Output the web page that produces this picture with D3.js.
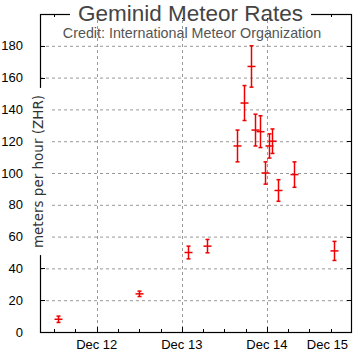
<!DOCTYPE html>
<html><head><meta charset="utf-8">
<script src="https://cdn.jsdelivr.net/npm/d3@7"></script>
<style>
html,body{margin:0;padding:0;background:#fff;}
svg{display:block;font-family:"Liberation Sans",Arial,sans-serif;}
</style></head>
<body>
<svg id="chart" width="360" height="354"></svg>
<script>
const times = ["2017-12-11T13:10Z","2017-12-12T11:52Z","2017-12-13T01:42Z","2017-12-13T07:14Z",
  "2017-12-13T15:42Z","2017-12-13T17:24Z","2017-12-13T19:30Z","2017-12-13T20:30Z","2017-12-13T21:55Z",
  "2017-12-13T23:20Z","2017-12-14T00:28Z","2017-12-14T01:18Z","2017-12-14T03:00Z","2017-12-14T07:31Z",
  "2017-12-14T18:49Z"];
const rates = [8, 24, 50, 54, 117, 144, 167, 127, 126, 100, 117, 120, 89, 99, 51];
const errors = [2, 1.7, 4, 4.2, 10, 11, 13, 10, 10, 7, 7.6, 7.7, 6.8, 8, 6];
const yTicks = [0, 20, 40, 60, 80, 100, 120, 140, 160, 180];
const xTicks = ["2017-12-12T00:00Z","2017-12-13T00:00Z","2017-12-14T00:00Z","2017-12-15T00:00Z"];
const xTickLabels = ["Dec 12","Dec 13","Dec 14","Dec 15"];
const titleText = "Geminid Meteor Rates";
const subtitleText = "Credit: International Meteor Organization";
const yLabel = "meters per hour (ZHR)";

const L = 40, R = 352, T = 14, B = 332;
const svg = d3.select("#chart");
const x = d3.scaleUtc().domain([new Date("2017-12-11T08:00Z"), new Date("2017-12-15T00:00Z")]).range([L, R]);
const y = d3.scaleLinear().domain([0, 200]).range([B, T]);
const xt = xTicks.map(d => new Date(d));
const minor = d3.utcHour.every(6).range(x.domain()[0], x.domain()[1]);

// grid
const g = svg.append("g");
g.selectAll(".hg").data(yTicks.filter(v => v > 0)).join("line")
  .attr("x1", L).attr("x2", R).attr("y1", d => y(d) + 0.5).attr("y2", d => y(d) + 0.5)
  .attr("stroke", "#999").attr("stroke-dasharray", "3,3").attr("stroke-width", 1);
g.selectAll(".vg").data(xt.filter(d => x(d) < R - 1)).join("line")
  .attr("x1", d => Math.round(x(d)) + 0.5).attr("x2", d => Math.round(x(d)) + 0.5).attr("y1", T).attr("y2", B)
  .attr("stroke", "#999").attr("stroke-dasharray", "3,3").attr("stroke-width", 1);

// ticks
const tk = svg.append("g").attr("stroke", "#000").attr("stroke-width", 1);
yTicks.forEach(v => {
  const yy = Math.round(y(v)) + 0.5;
  tk.append("line").attr("x1", L).attr("x2", L + 5).attr("y1", yy).attr("y2", yy);
  tk.append("line").attr("x1", R - 5).attr("x2", R).attr("y1", yy).attr("y2", yy);
});
minor.forEach(d => {
  const xx = Math.round(x(d)) + 0.5;
  const major = d.getUTCHours() === 0;
  const len = major ? 5 : 3;
  tk.append("line").attr("x1", xx).attr("x2", xx).attr("y1", B).attr("y2", B - len);
  tk.append("line").attr("x1", xx).attr("x2", xx).attr("y1", T).attr("y2", T + len);
});

// frame
svg.append("rect").attr("x", L + 0.5).attr("y", T + 0.5).attr("width", R - L - 1).attr("height", B - T)
  .attr("fill", "none").attr("stroke", "#000").attr("stroke-width", 1.2);

// y tick labels
svg.append("g").selectAll("text").data(yTicks).join("text")
  .attr("x", 23).attr("y", d => y(d)).attr("dy", "0.35em").attr("text-anchor", "end")
  .attr("font-size", 13).attr("fill", "#000").text(d => d);

// x tick labels
const xl = svg.append("g").selectAll("text").data(xt).join("text")
  .attr("x", d => x(d)).attr("y", 349).attr("text-anchor", "middle")
  .attr("font-size", 13).attr("fill", "#000").text((d, i) => xTickLabels[i]);
xl.each(function() {
  const w = this.getComputedTextLength();
  const cx = +this.getAttribute("x");
  if (cx + w / 2 > 348) this.setAttribute("x", 348 - w / 2);
});

// data
const pts = svg.append("g").attr("stroke", "#ee0000").attr("stroke-width", 1.5);
times.forEach((t, i) => {
  const cx = Math.round(x(new Date(t))) + 0.5;
  const cy = y(rates[i]);
  const y1 = y(rates[i] + errors[i]), y2 = y(rates[i] - errors[i]);
  pts.append("line").attr("x1", cx).attr("x2", cx).attr("y1", y1).attr("y2", y2);
  pts.append("line").attr("x1", cx - 2).attr("x2", cx + 2).attr("y1", y1).attr("y2", y1);
  pts.append("line").attr("x1", cx - 2).attr("x2", cx + 2).attr("y1", y2).attr("y2", y2);
  pts.append("line").attr("x1", cx - 4).attr("x2", cx + 4).attr("y1", cy).attr("y2", cy);
});

// title with white background
const tbg = svg.append("rect").attr("fill", "#fff");
const title = svg.append("text").attr("x", 190.5).attr("y", 20.5).attr("text-anchor", "middle")
  .attr("font-size", 22.5).attr("fill", "#444").text(titleText);
const tw = title.node().getComputedTextLength();
tbg.attr("x", 190.5 - tw / 2 - 8).attr("y", T - 4).attr("width", tw + 16).attr("height", 8);
svg.append("text").attr("x", 192).attr("y", 37.5).attr("text-anchor", "middle")
  .attr("font-size", 14.3).attr("fill", "#555").text(subtitleText);

// y label with white background
const ybg = svg.append("rect").attr("fill", "#fff");
const yl = svg.append("text").attr("transform", "translate(43,171.5) rotate(-90)")
  .attr("text-anchor", "middle").attr("font-family", "'DejaVu Sans',sans-serif")
  .attr("font-size", 13.5).attr("fill", "#333").text(yLabel);
const w = yl.node().getComputedTextLength();
ybg.attr("x", 32).attr("y", 171.5 - w / 2 - 7).attr("width", 17).attr("height", w + 14);
</script>
</body></html>
